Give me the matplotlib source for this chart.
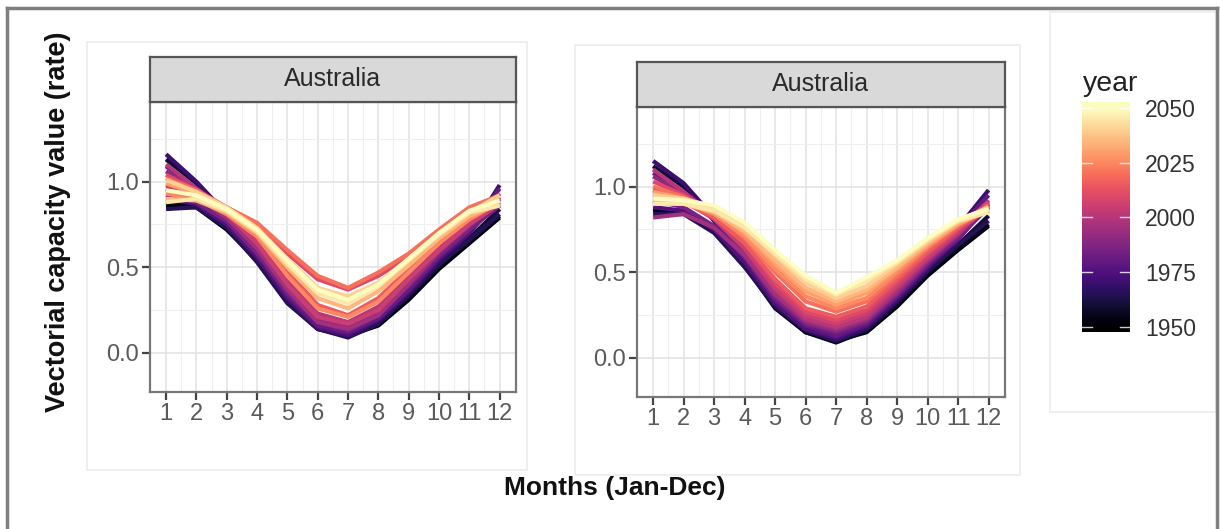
import numpy as np
import matplotlib
matplotlib.use("Agg")
import matplotlib.pyplot as plt
from matplotlib.colors import Normalize
from matplotlib.lines import Line2D
from matplotlib.patches import Rectangle

plt.rcParams['font.family'] = ['Liberation Sans', 'DejaVu Sans']

# ---------------- data ----------------
months = [1, 2, 3, 4, 5, 6, 7, 8, 9, 10, 11, 12]
month_labels = [str(m) for m in months]
years = [1950, 1955, 1960, 1965, 1970, 1975, 1980, 1985, 1990, 1995, 2000,
         2005, 2010, 2015, 2020, 2025, 2030, 2035, 2040, 2045, 2050]
y_ticks = [0.0, 0.5, 1.0]
y_tick_labels = ["0.0", "0.5", "1.0"]
cbar_ticks = [1950, 1975, 2000, 2025, 2050]
facet_label = "Australia"

# left panel: one row per year, Jan..Dec
left_values = [
    [0.86, 0.85, 0.72, 0.54, 0.31, 0.15, 0.10, 0.16, 0.31, 0.49, 0.64, 0.79],
    [0.88, 0.86, 0.73, 0.55, 0.30, 0.14, 0.10, 0.17, 0.32, 0.50, 0.65, 0.80],
    [1.13, 0.99, 0.80, 0.57, 0.31, 0.14, 0.10, 0.18, 0.33, 0.51, 0.67, 0.84],
    [0.84, 0.85, 0.73, 0.53, 0.29, 0.14, 0.09, 0.17, 0.34, 0.52, 0.66, 0.81],
    [1.16, 1.00, 0.81, 0.58, 0.32, 0.15, 0.10, 0.19, 0.35, 0.54, 0.70, 0.98],
    [0.90, 0.87, 0.75, 0.56, 0.32, 0.15, 0.11, 0.20, 0.36, 0.55, 0.70, 0.90],
    [1.09, 0.96, 0.80, 0.59, 0.34, 0.16, 0.12, 0.20, 0.37, 0.56, 0.72, 0.96],
    [0.92, 0.88, 0.77, 0.58, 0.35, 0.18, 0.13, 0.22, 0.39, 0.57, 0.72, 0.86],
    [1.06, 0.95, 0.81, 0.62, 0.38, 0.19, 0.15, 0.23, 0.41, 0.59, 0.74, 0.91],
    [0.96, 0.91, 0.79, 0.61, 0.37, 0.18, 0.14, 0.22, 0.40, 0.59, 0.75, 0.93],
    [1.10, 0.96, 0.83, 0.67, 0.43, 0.23, 0.18, 0.27, 0.44, 0.61, 0.76, 0.88],
    [0.98, 0.92, 0.81, 0.64, 0.40, 0.21, 0.17, 0.25, 0.43, 0.60, 0.75, 0.87],
    [1.04, 0.95, 0.85, 0.75, 0.58, 0.43, 0.37, 0.45, 0.56, 0.70, 0.83, 0.91],
    [0.95, 0.91, 0.82, 0.70, 0.48, 0.28, 0.22, 0.32, 0.49, 0.65, 0.79, 0.89],
    [1.02, 0.95, 0.85, 0.76, 0.60, 0.45, 0.38, 0.47, 0.58, 0.72, 0.85, 0.92],
    [0.93, 0.90, 0.81, 0.68, 0.45, 0.26, 0.21, 0.30, 0.47, 0.64, 0.78, 0.88],
    [0.99, 0.93, 0.84, 0.72, 0.53, 0.36, 0.30, 0.39, 0.53, 0.68, 0.81, 0.90],
    [0.90, 0.89, 0.82, 0.70, 0.50, 0.32, 0.26, 0.36, 0.51, 0.67, 0.80, 0.87],
    [1.01, 0.94, 0.85, 0.73, 0.55, 0.38, 0.33, 0.41, 0.55, 0.69, 0.82, 0.92],
    [0.88, 0.90, 0.83, 0.71, 0.52, 0.35, 0.29, 0.39, 0.54, 0.69, 0.82, 0.86],
    [0.95, 0.92, 0.84, 0.72, 0.54, 0.37, 0.31, 0.40, 0.55, 0.70, 0.83, 0.89],
]

# right panel: one row per year, Jan..Dec
right_values = [
    [0.86, 0.85, 0.75, 0.55, 0.30, 0.15, 0.10, 0.15, 0.30, 0.48, 0.63, 0.77],
    [0.87, 0.85, 0.74, 0.54, 0.29, 0.15, 0.09, 0.16, 0.31, 0.49, 0.64, 0.78],
    [1.12, 1.00, 0.80, 0.56, 0.31, 0.16, 0.10, 0.16, 0.32, 0.50, 0.66, 0.83],
    [0.84, 0.84, 0.73, 0.53, 0.30, 0.16, 0.10, 0.17, 0.33, 0.51, 0.66, 0.80],
    [1.15, 1.02, 0.82, 0.57, 0.32, 0.17, 0.11, 0.18, 0.34, 0.52, 0.76, 0.98],
    [0.88, 0.86, 0.75, 0.56, 0.32, 0.17, 0.12, 0.19, 0.35, 0.53, 0.69, 0.90],
    [1.08, 0.97, 0.81, 0.59, 0.34, 0.19, 0.13, 0.20, 0.36, 0.54, 0.75, 0.95],
    [0.92, 0.88, 0.77, 0.59, 0.35, 0.20, 0.15, 0.21, 0.37, 0.55, 0.70, 0.88],
    [1.06, 0.96, 0.82, 0.62, 0.37, 0.21, 0.16, 0.22, 0.38, 0.56, 0.73, 0.92],
    [0.82, 0.84, 0.76, 0.60, 0.37, 0.22, 0.17, 0.23, 0.39, 0.57, 0.72, 0.89],
    [1.10, 0.97, 0.83, 0.64, 0.40, 0.23, 0.18, 0.24, 0.41, 0.58, 0.73, 0.90],
    [0.98, 0.92, 0.81, 0.64, 0.41, 0.25, 0.20, 0.26, 0.42, 0.59, 0.74, 0.88],
    [1.03, 0.95, 0.84, 0.67, 0.44, 0.27, 0.22, 0.28, 0.44, 0.61, 0.75, 0.91],
    [0.95, 0.91, 0.82, 0.67, 0.46, 0.29, 0.24, 0.30, 0.46, 0.62, 0.76, 0.87],
    [1.00, 0.94, 0.85, 0.70, 0.50, 0.33, 0.27, 0.33, 0.48, 0.64, 0.77, 0.89],
    [0.94, 0.91, 0.84, 0.71, 0.52, 0.36, 0.29, 0.35, 0.50, 0.65, 0.78, 0.86],
    [0.97, 0.93, 0.86, 0.73, 0.55, 0.39, 0.31, 0.38, 0.52, 0.66, 0.78, 0.87],
    [0.91, 0.90, 0.85, 0.74, 0.57, 0.41, 0.33, 0.40, 0.53, 0.67, 0.79, 0.86],
    [0.95, 0.93, 0.88, 0.77, 0.60, 0.44, 0.35, 0.42, 0.55, 0.68, 0.80, 0.88],
    [0.90, 0.90, 0.86, 0.76, 0.61, 0.46, 0.37, 0.45, 0.56, 0.69, 0.80, 0.85],
    [0.93, 0.92, 0.89, 0.79, 0.63, 0.48, 0.38, 0.47, 0.57, 0.70, 0.81, 0.87],
]

# ---------------- layout helpers ----------------
W, H = 1220, 529
fig = plt.figure(figsize=(W / 100, H / 100), dpi=100)
fig.patch.set_facecolor('white')


def rect(x0, y0, x1, y1):
    return [x0 / W, 1 - y1 / H, (x1 - x0) / W, (y1 - y0) / H]


cmap = plt.get_cmap('magma')
norm = Normalize(vmin=1950, vmax=2050)

# faint background boxes (panel images)
for (x0, y0, x1, y1) in [(87, 42, 527, 470), (575, 45, 1020, 475), (1050, 12, 1216, 412)]:
    r = rect(x0, y0, x1, y1)
    fig.add_artist(Rectangle((r[0], r[1]), r[2], r[3], transform=fig.transFigure,
                             facecolor='white', edgecolor='#ececec', lw=1.2, zorder=0))

# outer frame
frame_col = '#7f7f7f'
fig.add_artist(Line2D([7 / W, 1217 / W], [1 - 8 / H, 1 - 8 / H], transform=fig.transFigure,
                      color=frame_col, lw=2.5))
fig.add_artist(Line2D([7 / W, 7 / W], [1 - 8 / H, 0], transform=fig.transFigure,
                      color=frame_col, lw=2.5))
fig.add_artist(Line2D([1217 / W, 1217 / W], [1 - 8 / H, 0], transform=fig.transFigure,
                      color=frame_col, lw=2.5))

panels = [
    (left_values, (150, 102, 516, 392), (150, 57, 516, 102)),
    (right_values, (637, 107, 1005, 397), (637, 62, 1005, 107)),
]

tick_font = 17
for values, prect, srect in panels:
    ax = fig.add_axes(rect(*prect))
    ax.set_facecolor('white')
    for yr, row in zip(years, values):
        ax.plot(months, row, color=cmap(norm(yr)), lw=3.0, solid_capstyle='butt',
                solid_joinstyle='round', zorder=3)
    ax.set_xlim(0.47, 12.54)
    ax.set_ylim(-0.228, 1.465)
    ax.set_xticks(months)
    ax.set_xticklabels(month_labels)
    ax.set_yticks(y_ticks)
    ax.set_yticklabels(y_tick_labels)
    ax.set_xticks([m + 0.5 for m in months[:-1]], minor=True)
    ax.set_yticks([0.25, 0.75, 1.25], minor=True)
    ax.grid(which='major', color='#e4e4e4', lw=1.2, zorder=0)
    ax.grid(which='minor', color='#efefef', lw=0.8, zorder=0)
    ax.set_axisbelow(True)
    ax.tick_params(axis='both', which='major', length=6, width=1.6, color='#444444',
                   labelcolor='#5a5a5a', labelsize=tick_font, pad=2)
    ax.tick_params(axis='both', which='minor', length=0)
    for sp in ax.spines.values():
        sp.set_color('#777777')
        sp.set_linewidth(1.6)

    sax = fig.add_axes(rect(*srect))
    sax.set_facecolor('#d9d9d9')
    sax.set_xticks([])
    sax.set_yticks([])
    for sp in sax.spines.values():
        sp.set_color('#555555')
        sp.set_linewidth(1.6)
    sax.text(0.5, 0.5, facet_label, ha='center', va='center', fontsize=18,
             color='#2a2a2a', transform=sax.transAxes)

# axis titles
fig.text(58 / W, 1 - 222 / H, 'Vectorial capacity value (rate)', rotation=90,
         ha='center', va='center', fontsize=19.5, fontweight='bold', color='#111111')
fig.text(615 / W, 1 - 488 / H, 'Months (Jan-Dec)', ha='center', va='center',
         fontsize=19, fontweight='bold', color='#111111',
         family=['Liberation Sans Narrow', 'Liberation Sans', 'DejaVu Sans'])

# colour bar legend
cax = fig.add_axes(rect(1082, 102, 1130, 332))
lo, hi = 1947.7, 2052.7
grad = np.linspace(lo, hi, 256).reshape(-1, 1)
cax.imshow(grad, aspect='auto', origin='lower', extent=(0, 1, lo, hi), cmap=cmap, norm=norm)
cax.set_xlim(0, 1)
cax.set_ylim(lo, hi)
cax.set_xticks([])
cax.yaxis.tick_right()
cax.set_yticks(cbar_ticks)
cax.set_yticklabels([str(t) for t in cbar_ticks])
cax.tick_params(axis='y', length=0, pad=11, labelsize=16.5, labelcolor='#333333')
for sp in cax.spines.values():
    sp.set_visible(False)
for t in cbar_ticks:
    cax.plot([0, 0.2], [t, t], color='white', lw=1.0, alpha=0.8)
    cax.plot([0.8, 1], [t, t], color='white', lw=1.0, alpha=0.8)
fig.text(1083 / W, 1 - 84 / H, 'year', ha='left', va='center', fontsize=20.5, color='#222222')

fig.savefig('out.png', dpi=100, facecolor='white')
